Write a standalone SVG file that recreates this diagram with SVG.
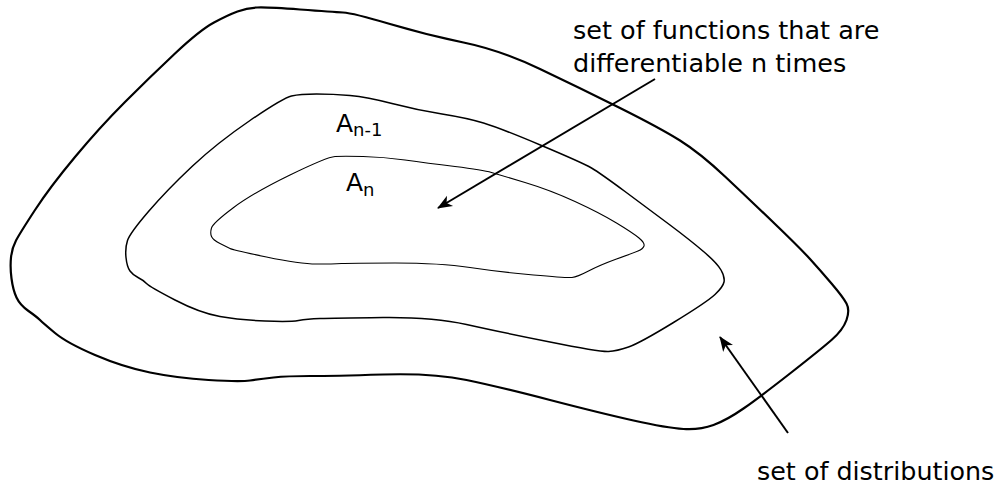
<svg xmlns="http://www.w3.org/2000/svg" width="1002" height="486" viewBox="0 0 1002 486">
<style>
.region{fill:none;stroke:#000;stroke-linejoin:round}
.lbl{font-family:"DejaVu Sans",sans-serif;fill:#000}
.conn{stroke:#000;stroke-width:2;fill:none}
</style>
<defs>
<marker id="ah" markerUnits="userSpaceOnUse" markerWidth="20" markerHeight="16" refX="0" refY="0" viewBox="-16 -8 18 16" orient="auto" overflow="visible">
<path d="M1,0 L-14,-6 L-10,0 L-14,6 Z" fill="#000"/>
</marker>
</defs>
<rect width="1002" height="486" fill="#fff"/>
<g id="distributions">
<path class="region" stroke-width="2.2" d="M214,22.5 Q228,15 237.5,11.5 Q247,8 257,7.5 Q267,7 300,9.5 Q333,12 343,12.5 Q353,13 390,24 Q427,35 463.5,42.5 Q500,50 540,69 Q580,88 620,108 Q660,128 680,140.5 Q700,153 725,176.5 Q750,200 775,224 Q800,248 810,259 Q820,270 831.5,283.5 Q843,297 846.5,303.5 Q850,310 846.5,320 Q843,330 831.5,340 Q820,350 790,373.5 Q760,397 743.5,408.5 Q727,420 713.5,425 Q700,430 683.5,429 Q667,428 633.5,420.5 Q600,413 550,400 Q500,387 466.5,380 Q433,373 383,374.5 Q333,376 310,376 Q287,376 273.5,377.5 Q260,379 250,380.5 Q240,382 208.5,380 Q177,378 150,372.5 Q123,367 95,355 Q67,343 55,333 Q43,323 40,320 Q37,317 28.5,311 Q20,305 16.5,297.5 Q13,290 11.5,278.5 Q10,267 11,257.5 Q12,248 16,240.5 Q20,233 35,210 Q50,187 75,157 Q100,127 125,102 Q150,77 175,53.5 Q200,30 214,22.5 Z"/>
<text class="lbl" x="757" y="480" font-size="25.4">set of distributions</text>
</g>
<g id="a-n-1">
<path class="region" stroke-width="1.5" d="M250,120.5 Q283,98 291.5,96 Q300,94 316.5,94 Q333,94 350,95.5 Q367,97 392,103.5 Q417,110 442,114 Q467,118 483.5,123 Q500,128 541.5,145.5 Q583,163 591.5,168 Q600,173 625,191.5 Q650,210 670,225 Q690,240 703.5,251.5 Q717,263 721,270 Q725,277 724,282 Q723,287 715,294.5 Q707,302 673.5,322.5 Q640,343 628.5,347 Q617,351 608.5,351.5 Q600,352 550,342 Q500,332 466.5,324.5 Q433,317 383,317.5 Q333,318 320,318.5 Q307,319 298.5,320.5 Q290,322 265,321 Q240,320 220,316.5 Q200,313 175,300 Q150,287 146.5,283.5 Q143,280 138,277.5 Q133,275 130,271 Q127,267 126,257.5 Q125,248 127.5,240.5 Q130,233 148.5,211.5 Q167,190 192,166.5 Q217,143 250,120.5 Z"/>
<text class="lbl" x="336" y="132" font-size="25">A<tspan font-size="18" dy="4">n-1</tspan></text>
</g>
<g id="a-n">
<path class="region" stroke-width="1.1" d="M290,175 Q327,157 335,156.5 Q343,156 363,156.5 Q383,157 405,160 Q427,163 455,166.5 Q483,170 491.5,172.5 Q500,175 525,182.5 Q550,190 575,201.5 Q600,213 616.5,223 Q633,233 639,238 Q645,243 644,246 Q643,249 638,251 Q633,253 616.5,259 Q600,265 588.5,271 Q577,277 572,277.5 Q567,278 533.5,275 Q500,272 470,267.5 Q440,263 395,263 Q350,263 341.5,263.5 Q333,264 316.5,264 Q300,264 266.5,257 Q233,250 230,248.5 Q227,247 220,243.5 Q213,240 211.5,236.5 Q210,233 211.5,228 Q213,223 233,208 Q253,193 290,175 Z"/>
<text class="lbl" x="346" y="191" font-size="25">A<tspan font-size="18" dy="5">n</tspan></text>
</g>
<g id="label-functions">
<text class="lbl" x="573" y="39" font-size="25.5">set of functions that are</text>
<text class="lbl" x="573" y="72" font-size="25.5">differentiable n times</text>
</g>
<g id="connectors">
<line class="conn" x1="655" y1="79" x2="438" y2="208" marker-end="url(#ah)"/>
<line class="conn" x1="788" y1="433" x2="720" y2="337" marker-end="url(#ah)"/>
</g>
</svg>
